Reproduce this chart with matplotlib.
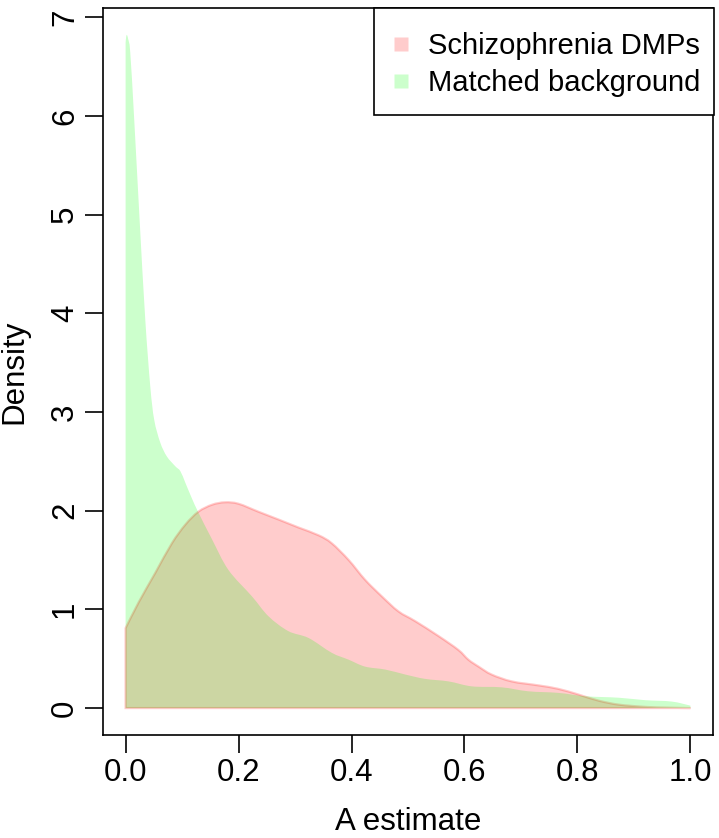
import matplotlib
matplotlib.use("Agg")
import numpy as np
import matplotlib.pyplot as plt
from matplotlib.patches import PathPatch, Rectangle
from matplotlib.lines import Line2D
from matplotlib.path import Path

plt.rcParams['font.family'] = ['Liberation Sans', 'DejaVu Sans']

# Density of A estimates: schizophrenia DMPs
a_dmp = [0.0, 0.023, 0.0526, 0.082, 0.106, 0.129, 0.153, 0.176, 0.2, 0.235,
         0.271, 0.306, 0.342, 0.365, 0.395, 0.424, 0.454, 0.483, 0.513, 0.554,
         0.589, 0.607, 0.625, 0.648, 0.684, 0.731, 0.766, 0.802, 0.837, 0.873,
         0.92, 0.96, 1.0]
d_dmp = [0.81, 1.07, 1.37, 1.67, 1.86, 1.99, 2.06, 2.085, 2.07, 1.99,
         1.91, 1.83, 1.75, 1.67, 1.50, 1.30, 1.13, 0.98, 0.88, 0.73,
         0.59, 0.49, 0.42, 0.34, 0.27, 0.23, 0.195, 0.137, 0.076, 0.035,
         0.012, 0.004, 0.0]

# Density of A estimates: matched background
a_bg = [0.0, 0.001, 0.0023, 0.0045, 0.0083, 0.0153, 0.0248, 0.0348, 0.0437,
        0.0507, 0.0614, 0.073, 0.088, 0.097, 0.106, 0.117, 0.129, 0.153, 0.182,
        0.224, 0.253, 0.288, 0.324, 0.365, 0.395, 0.424, 0.46, 0.495, 0.53,
        0.572, 0.613, 0.666, 0.713, 0.766, 0.814, 0.873, 0.92, 0.967, 1.0]
d_bg = [6.74, 6.80, 6.82, 6.78, 6.64, 5.96, 4.95, 3.94, 3.26,
        2.92, 2.69, 2.55, 2.45, 2.40, 2.28, 2.13, 1.98, 1.71, 1.40,
        1.13, 0.93, 0.78, 0.71, 0.56, 0.49, 0.42, 0.39, 0.34, 0.296,
        0.27, 0.22, 0.21, 0.17, 0.154, 0.12, 0.105, 0.08, 0.066, 0.025]

labels = ["Schizophrenia DMPs", "Matched background"]
x_ticks = [0.0, 0.2, 0.4, 0.6, 0.8, 1.0]
x_ticklabels = ["0.0", "0.2", "0.4", "0.6", "0.8", "1.0"]
y_ticks = [0, 1, 2, 3, 4, 5, 6, 7]

red_a = (1.0, 0.0, 0.0, 0.2)
green_a = (0.0, 1.0, 0.0, 0.2)

W, H = 719, 838
fig = plt.figure(figsize=(W / 100, H / 100), dpi=100)
ax = fig.add_axes([103 / W, 1 - 735 / H, 610 / W, 727 / H])


def density_path(xs, ys):
    """Closed outline: smooth curve through the points, down to the baseline."""
    p = np.column_stack([xs, ys]).astype(float)
    verts = [(xs[0], 0.0), tuple(p[0])]
    codes = [Path.MOVETO, Path.LINETO]
    n = len(p)
    for i in range(n - 1):
        p0 = p[max(i - 1, 0)]
        p1, p2 = p[i], p[i + 1]
        p3 = p[min(i + 2, n - 1)]
        c1 = p1 + (p2 - p0) / 6.0
        c2 = p2 - (p3 - p1) / 6.0
        verts += [tuple(c1), tuple(c2), tuple(p2)]
        codes += [Path.CURVE4] * 3
    verts += [(xs[-1], 0.0), (xs[0], 0.0)]
    codes += [Path.LINETO, Path.CLOSEPOLY]
    return Path(verts, codes)


ax.add_patch(PathPatch(density_path(a_dmp, d_dmp), facecolor=red_a,
                       edgecolor=red_a, linewidth=1.6))
ax.add_patch(PathPatch(density_path(a_bg, d_bg), facecolor=green_a,
                       edgecolor='none'))

ymax = max(max(d_dmp), max(d_bg))
ax.set_xlim(-0.04, 1.04)
ax.set_ylim(-0.04 * ymax, ymax * 1.04)

fs = 22.5
ax.set_xticks(x_ticks)
ax.set_xticklabels(x_ticklabels)
ax.set_yticks(y_ticks)
ax.tick_params(axis='both', direction='out', length=13, width=1.2,
               labelsize=fs, pad=3.5)
for t in ax.get_yticklabels():
    t.set_rotation(90)
    t.set_va('center')
for s in ax.spines.values():
    s.set_linewidth(1.2)

ax.set_xlabel("A estimate", fontsize=fs, labelpad=14)
ax.set_ylabel("Density", fontsize=fs, labelpad=15)

# legend: frame in the top-right corner of the plot box
fig.patches.append(Rectangle((374 / W, 1 - 115 / H), 340 / W, 107 / H,
                             transform=fig.transFigure, facecolor='white',
                             edgecolor='black', linewidth=1.2, zorder=5))
handles = [Line2D([], [], linestyle='none', marker='s', markersize=10.5,
                  markerfacecolor=red_a, markeredgecolor='none'),
           Line2D([], [], linestyle='none', marker='s', markersize=10.5,
                  markerfacecolor=green_a, markeredgecolor='none')]
leg = fig.legend(handles, labels, loc='upper left',
                 bbox_to_anchor=(388 / W, 1 - 32 / H), borderaxespad=0,
                 borderpad=0, fontsize=21, handlelength=0.89,
                 handletextpad=0.48, labelspacing=0.3, frameon=False)
leg.set_zorder(6)

fig.savefig("out.png", dpi=100)
